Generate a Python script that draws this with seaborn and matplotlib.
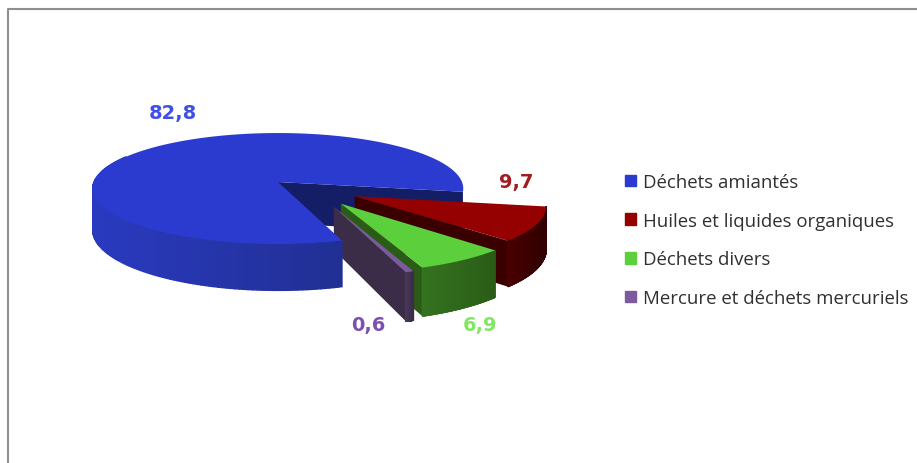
import numpy as np
import matplotlib
matplotlib.use("Agg")
import matplotlib.pyplot as plt
from matplotlib.colors import to_rgb
from matplotlib.patches import Patch
import seaborn as sns

categories = ["Déchets amiantés", "Huiles et liquides organiques", "Déchets divers", "Mercure et déchets mercuriels"]
values = [82.8, 9.7, 6.9, 0.6]
value_labels = ["82,8", "9,7", "6,9", "0,6"]

# top face, outer side (light end, dark end), cut wall
top_colors = ["#2b3bd0", "#950000", "#5cd03c", "#7b5aa0"]
side_light = ["#2a3ac0", "#4a0000", "#357320", "#4a3a5c"]
side_dark = ["#1c2a7c", "#300000", "#2a5c17", "#3b2c48"]
wall_colors = ["#141e66", "#3a0000", "#2a5c17", "#3b2c48"]
label_colors = ["#3f50e6", "#a01c20", "#80e860", "#7c4fb0"]
explode = [0, 0.47, 0.47, 0.47]
nudge = [(0, 0), (-2, 2), (14, -1), (26, -1)]
label_pos = [(173, 113), (516, 183), (480, 326), (368, 326)]

# projection of the pie plane to pixels
X0, Y0 = 278, 183
R, A, K, D = 184, 54.7, 0.117, 41


def project(px, py, drop=0.0, shift=(0, 0)):
    px, py = np.asarray(px), np.asarray(py)
    w = 1 + K * py
    return X0 + R * px / w + shift[0], Y0 + (drop * D - A * py) / w + shift[1]


def arc(center, t1, t2, n=120):
    t = np.radians(np.linspace(t1, t2, n))
    return center[0] + np.cos(t), center[1] + np.sin(t), np.degrees(t)


sns.set_theme(style="white")
plt.rcParams["font.family"] = ["Open Sans", "DejaVu Sans"]

fig = plt.figure(figsize=(9.17, 4.64), dpi=100)
ax = fig.add_axes([0, 0, 1, 1])

wedges, _ = ax.pie(values, explode=explode, startangle=288, counterclock=False, frame=False)
ax.set_aspect("auto")
ax.set_xlim(0, 917)
ax.set_ylim(464, 0)
ax.axis("off")

# the blue outer side sits in front of the slices, its cut wall behind them
layer = {0: 10, 1: 3, 2: 4, 3: 5}

for i, wedge in enumerate(wedges):
    wedge.set_visible(False)
    c = wedge.center
    t1, t2 = wedge.theta1, wedge.theta2
    z = layer[i]
    s = nudge[i]

    # wall on the theta1 edge
    ex, ey = c[0] + np.cos(np.radians(t1)), c[1] + np.sin(np.radians(t1))
    qx, qy = project([c[0], ex, ex, c[0]], [c[1], ey, ey, c[1]], 0, s)
    _, ylow = project([c[0], ex, ex, c[0]], [c[1], ey, ey, c[1]], 1, s)
    ax.fill(qx, [qy[0], qy[1], ylow[2], ylow[3]], color=wall_colors[i], lw=0, zorder=1 if i == 0 else z)

    # outer side as thin strips so the shade runs along the rim
    ax_, ay_, t = arc(c, t1, t2, 240)
    xt, yt = project(ax_, ay_, 0, s)
    xb, yb = project(ax_, ay_, 1, s)
    left, right = xt.min(), xt.max()
    light, dark = np.array(to_rgb(side_light[i])), np.array(to_rgb(side_dark[i]))
    for j in range(len(xt) - 1):
        if i == 0 and t[j] < 150:
            continue
        f = (xt[j] - left) / max(right - left, 1)
        col = light + (dark - light) * f
        ax.fill([xt[j], xt[j + 1], xb[j + 1], xb[j]], [yt[j], yt[j + 1], yb[j + 1], yb[j]],
                color=col, lw=1.0, zorder=z)

    # top face
    fx, fy = project(np.r_[c[0], ax_], np.r_[c[1], ay_], 0, s)
    ax.fill(fx, fy, color=top_colors[i], lw=0, zorder=z + 0.5)

for pos, text, col in zip(label_pos, value_labels, label_colors):
    ax.text(pos[0], pos[1], text, color=col, fontsize=14, fontweight="bold", family="DejaVu Sans",
            ha="center", va="center", zorder=20)

handles = [Patch(color=col, label=lab) for col, lab in zip(top_colors, categories)]
ax.legend(handles=handles, loc="upper left", bbox_to_anchor=(625 / 917, 1 - 174 / 464),
          frameon=False, fontsize=13.4, handlelength=0.6, handleheight=0.6, handletextpad=0.38,
          labelspacing=1.11, borderpad=0, borderaxespad=0, labelcolor="#303030")

# chart frame, cut off by the right and bottom of the picture
ax.plot([8, 8, 917], [464, 10, 10], color="#8f8f8f", lw=1.5, zorder=0)

fig.savefig("out.png", dpi=100)
